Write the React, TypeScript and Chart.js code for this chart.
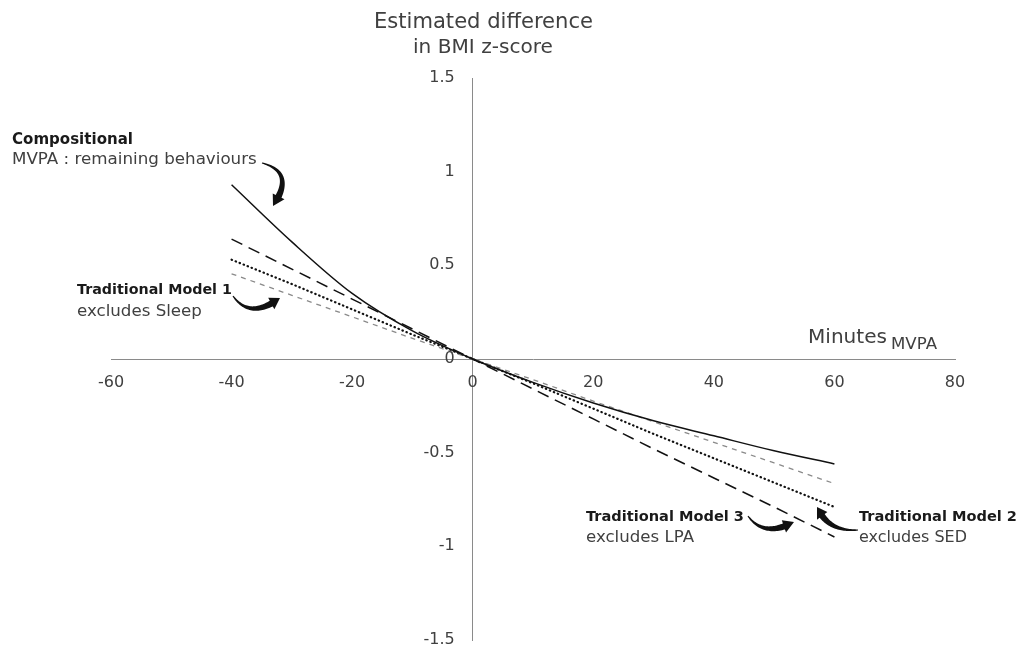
import React, { useEffect, useRef } from 'react';
import { Chart, registerables } from 'chart.js';

Chart.register(...registerables);

// ---- data ----
const minutes = [-40, -30, -20, -10, 0, 10, 20, 30, 40, 50, 60];
const compositional = [0.93, 0.625, 0.35, 0.15, 0, -0.125, -0.235, -0.33, -0.41, -0.49, -0.56];
const model1ExclSleep = [0.455, 0.34, 0.225, 0.11, 0, -0.11, -0.225, -0.335, -0.445, -0.555, -0.665];
const model2ExclSED = [0.53, 0.4, 0.265, 0.13, 0, -0.13, -0.265, -0.4, -0.53, -0.66, -0.79];
const model3ExclLPA = [0.64, 0.48, 0.32, 0.16, 0, -0.16, -0.32, -0.48, -0.635, -0.79, -0.95];
const xTicks = [-60, -40, -20, 0, 20, 40, 60, 80];
const yTicks = [1.5, 1, 0.5, 0, -0.5, -1, -1.5];
const yTitle = ['Estimated difference', 'in BMI z-score'];
const xTitle = 'Minutes';
const xTitleSub = 'MVPA';

const FONT = '"DejaVu Sans", sans-serif';
const TXT = '#404040';

function fitText(
  ctx: CanvasRenderingContext2D,
  text: string,
  x: number,
  y: number,
  width: number,
  weight: string,
  color: string
) {
  ctx.font = `${weight} 20px ${FONT}`;
  const w = ctx.measureText(text).width;
  const size = (20 * width) / w;
  ctx.font = `${weight} ${size.toFixed(2)}px ${FONT}`;
  ctx.fillStyle = color;
  ctx.textAlign = 'left';
  ctx.textBaseline = 'middle';
  ctx.fillText(text, x, y);
}

type P = [number, number];
function curvedArrow(ctx: CanvasRenderingContext2D, p0: P, c: P, p1: P) {
  const N = 40;
  const pts: P[] = [];
  for (let i = 0; i <= N; i++) {
    const t = i / N;
    const a = (1 - t) * (1 - t), b = 2 * (1 - t) * t, d = t * t;
    pts.push([a * p0[0] + b * c[0] + d * p1[0], a * p0[1] + b * c[1] + d * p1[1]]);
  }
  const lens = [0];
  for (let i = 1; i <= N; i++) {
    lens.push(lens[i - 1] + Math.hypot(pts[i][0] - pts[i - 1][0], pts[i][1] - pts[i - 1][1]));
  }
  const total = lens[N];
  const headLen = 10;
  let bi = N;
  while (bi > 0 && total - lens[bi] < headLen) bi--;
  const left: P[] = [];
  const right: P[] = [];
  const normalAt = (i: number): P => {
    const i0 = Math.max(0, i - 1), i1 = Math.min(N, i + 1);
    const dx = pts[i1][0] - pts[i0][0], dy = pts[i1][1] - pts[i0][1];
    const l = Math.hypot(dx, dy) || 1;
    return [-dy / l, dx / l];
  };
  for (let i = 0; i <= bi; i++) {
    const w = 0.6 + (i / bi) * 2.6;
    const n = normalAt(i);
    left.push([pts[i][0] + n[0] * w, pts[i][1] + n[1] * w]);
    right.push([pts[i][0] - n[0] * w, pts[i][1] - n[1] * w]);
  }
  const nb = normalAt(bi);
  const hw = 6.5;
  ctx.beginPath();
  ctx.moveTo(left[0][0], left[0][1]);
  for (const p of left) ctx.lineTo(p[0], p[1]);
  ctx.lineTo(pts[bi][0] + nb[0] * hw, pts[bi][1] + nb[1] * hw);
  ctx.lineTo(p1[0], p1[1]);
  ctx.lineTo(pts[bi][0] - nb[0] * hw, pts[bi][1] - nb[1] * hw);
  for (let i = right.length - 1; i >= 0; i--) ctx.lineTo(right[i][0], right[i][1]);
  ctx.closePath();
  ctx.fillStyle = '#111';
  ctx.fill();
}

const annotations = {
  id: 'annotations',
  afterDraw(chart: any) {
    const ctx: CanvasRenderingContext2D = chart.ctx;
    const xs = chart.scales.x;
    const ys = chart.scales.y;
    ctx.save();
    // tick labels
    ctx.font = `16px ${FONT}`;
    ctx.fillStyle = TXT;
    ctx.textBaseline = 'middle';
    ctx.textAlign = 'center';
    const x0 = xs.getPixelForValue(0);
    const y0 = ys.getPixelForValue(0);
    for (const v of xTicks) ctx.fillText(String(v), xs.getPixelForValue(v), y0 + 24);
    ctx.textAlign = 'right';
    for (const v of yTicks) ctx.fillText(String(v), x0 - 18, ys.getPixelForValue(v));

    // axis titles
    fitText(ctx, yTitle[0], 374, 23, 219, 'normal', TXT);
    fitText(ctx, yTitle[1], 413, 48, 140, 'normal', TXT);
    fitText(ctx, xTitle, 808, 338, 79, 'normal', TXT);
    fitText(ctx, xTitleSub, 891, 345, 46, 'normal', TXT);

    // series annotations
    fitText(ctx, 'Compositional', 12, 140, 121, 'bold', '#1a1a1a');
    fitText(ctx, 'MVPA : remaining behaviours', 12, 160, 245, 'normal', TXT);
    fitText(ctx, 'Traditional Model 1', 77, 290, 155, 'bold', '#1a1a1a');
    fitText(ctx, 'excludes Sleep', 77, 312, 125, 'normal', TXT);
    fitText(ctx, 'Traditional Model 3', 586, 517, 158, 'bold', '#1a1a1a');
    fitText(ctx, 'excludes LPA', 586, 538, 108, 'normal', TXT);
    fitText(ctx, 'Traditional Model 2', 859, 517, 158, 'bold', '#1a1a1a');
    fitText(ctx, 'excludes SED', 859, 538, 108, 'normal', TXT);

    // curved arrows
    curvedArrow(ctx, [262, 163], [296, 172], [273, 206]);
    curvedArrow(ctx, [233, 296], [250, 320], [280, 298]);
    curvedArrow(ctx, [748, 516], [764, 538], [794, 522]);
    curvedArrow(ctx, [858, 530], [828, 532], [817, 507]);
    ctx.restore();
  },
};

export default function App() {
  const ref = useRef<HTMLCanvasElement | null>(null);
  useEffect(() => {
    if (!ref.current) return;
    const pts = (ys: number[]) => minutes.map((x, i) => ({ x, y: ys[i] }));
    const chart = new Chart(ref.current, {
      type: 'line',
      data: {
        datasets: [
          {
            label: 'Compositional',
            data: pts(compositional),
            borderColor: '#111',
            borderWidth: 1.5,
            cubicInterpolationMode: 'monotone',
            pointRadius: 0,
          },
          {
            label: 'Traditional Model 1',
            data: pts(model1ExclSleep),
            borderColor: '#8a8a8a',
            borderWidth: 1.3,
            borderDash: [5, 5],
            pointRadius: 0,
          },
          {
            label: 'Traditional Model 2',
            data: pts(model2ExclSED),
            borderColor: '#111',
            borderWidth: 2.2,
            borderDash: [0.5, 3.8],
            borderCapStyle: 'round',
            pointRadius: 0,
          },
          {
            label: 'Traditional Model 3',
            data: pts(model3ExclLPA),
            borderColor: '#111',
            borderWidth: 1.5,
            borderDash: [12, 7],
            pointRadius: 0,
          },
        ],
      } as any,
      options: {
        animation: false,
        responsive: false,
        layout: { padding: { left: 111, right: 64, top: 78, bottom: 12 } },
        plugins: { legend: { display: false }, tooltip: { enabled: false } },
        scales: {
          x: {
            type: 'linear',
            min: -60,
            max: 80,
            position: { y: 0 } as any,
            grid: { display: false, drawTicks: false },
            border: { display: true, color: '#8a8a8a', width: 1 },
            ticks: { display: false, stepSize: 20 },
          },
          y: {
            type: 'linear',
            min: -1.5,
            max: 1.5,
            position: { x: 0 } as any,
            grid: { display: false, drawTicks: false },
            border: { display: true, color: '#8a8a8a', width: 1 },
            ticks: { display: false, stepSize: 0.5 },
          },
        },
      } as any,
      plugins: [annotations],
    });
    return () => chart.destroy();
  }, []);
  return (
    <div style={{ position: 'absolute', left: 0, top: 0, width: 1019, height: 652, background: '#fff' }}>
      <canvas ref={ref} width={1019} height={652} style={{ width: 1019, height: 652, display: 'block' }} />
    </div>
  );
}
